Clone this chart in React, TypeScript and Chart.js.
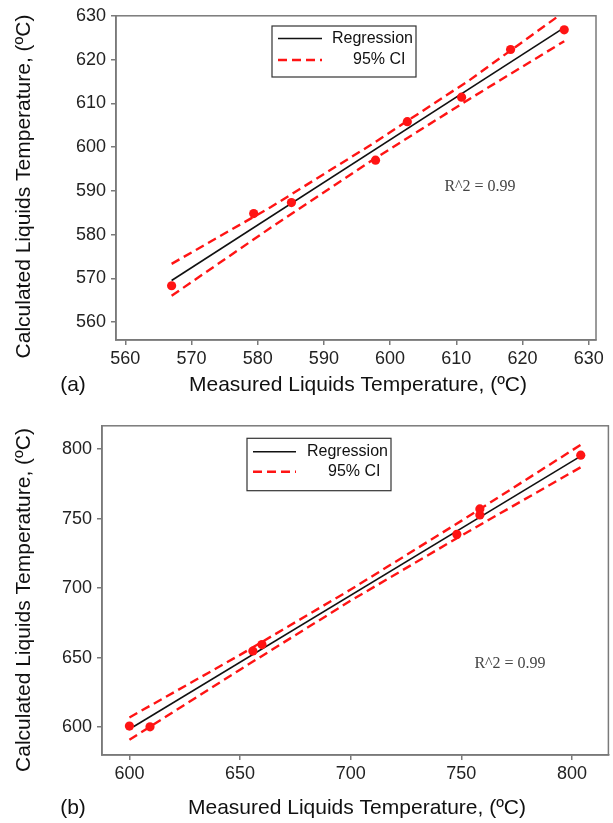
import React, { useEffect, useRef } from 'react';
import { Chart, registerables } from 'chart.js';

Chart.register(...registerables);

const SANS = 'Arial, "Liberation Sans", sans-serif';
const SERIF = '"Times New Roman", "Liberation Serif", serif';

// ---------- Panel (a) ----------
const aMeasured = [567.0, 579.4, 585.1, 597.8, 602.6, 610.8, 618.2, 626.3];
const aCalculated = [568.3, 584.8, 587.3, 597.0, 605.8, 611.4, 622.3, 626.8];
const aFitX = [567.0, 626.3];
const aFitY = [569.5, 627.3];
const aCiX = [567.0, 582.0, 597.0, 612.0, 626.3];
const aCiUpper = [573.3, 586.3, 600.4, 615.3, 630.9];
const aCiLower = [566.0, 581.6, 596.7, 611.0, 624.2];
const aXTicks = [560, 570, 580, 590, 600, 610, 620, 630];
const aYTicks = [560, 570, 580, 590, 600, 610, 620, 630];

// ---------- Panel (b) ----------
const bMeasured = [600.0, 609.3, 655.8, 659.9, 748.0, 758.4, 758.4, 804.0];
const bCalculated = [600.8, 600.3, 654.8, 659.4, 738.7, 757.0, 752.7, 795.7];
const bFitX = [601.8, 804.0];
const bFitY = [600.3, 795.0];
const bCiX = [600.0, 650.0, 700.0, 750.0, 804.0];
const bCiUpper = [607.0, 652.0, 699.0, 748.4, 803.1];
const bCiLower = [591.0, 641.4, 691.0, 737.8, 787.0];
const bXTicks = [600, 650, 700, 750, 800];
const bYTicks = [600, 650, 700, 750, 800];

const xTitle = 'Measured Liquids Temperature, (ºC)';
const yTitle = 'Calculated Liquids Temperature, (ºC)';
const fitLabel = 'Regression';
const ciLabel = '95% CI';
const r2Text = 'R^2 = 0.99';

const RED = '#ff1414';
const AXIS = '#7a7a7a';

type PanelCfg = {
  top: number;
  height: number;
  measured: number[];
  calculated: number[];
  fitX: number[];
  fitY: number[];
  ciX: number[];
  ciUpper: number[];
  ciLower: number[];
  xTicks: number[];
  yTicks: number[];
  xMin: number; xMax: number; yMin: number; yMax: number;
  padTop: number; padRight: number; yAxisW: number; xAxisH: number;
  legend: { x: number; y: number; w: number; h: number; lx1: number; lx2: number; ty: number[]; tx: number[] };
  r2: { x: number; y: number };
  yTitleY: number; xTitle: { x: number; y: number };
  tag: string; tagPos: { x: number; y: number };
};

const panelA: PanelCfg = {
  top: 0, height: 410,
  measured: aMeasured, calculated: aCalculated,
  fitX: aFitX, fitY: aFitY, ciX: aCiX, ciUpper: aCiUpper, ciLower: aCiLower,
  xTicks: aXTicks, yTicks: aYTicks,
  xMin: 558.6, xMax: 631.1, yMin: 555.9, yMax: 630,
  padTop: 14, padRight: 17, yAxisW: 116, xAxisH: 70,
  legend: { x: 272, y: 26, w: 144, h: 51, lx1: 278, lx2: 322, ty: [38.5, 60], tx: [332, 353] },
  r2: { x: 480, y: 186.5 },
  yTitleY: 186.5, xTitle: { x: 358, y: 385 },
  tag: '(a)', tagPos: { x: 73, y: 385 },
};

const panelB: PanelCfg = {
  top: 410, height: 413,
  measured: bMeasured, calculated: bCalculated,
  fitX: bFitX, fitY: bFitY, ciX: bCiX, ciUpper: bCiUpper, ciLower: bCiLower,
  xTicks: bXTicks, yTicks: bYTicks,
  xMin: 587.6, xMax: 816.5, yMin: 580, yMax: 816.8,
  padTop: 15, padRight: 2, yAxisW: 102, xAxisH: 68,
  legend: { x: 247, y: 28.3, w: 144, h: 52.4, lx1: 253, lx2: 296, ty: [41.7, 61.7], tx: [307, 328] },
  r2: { x: 510, y: 253.3 },
  yTitleY: 190, xTitle: { x: 357, y: 398 },
  tag: '(b)', tagPos: { x: 73, y: 398 },
};

function pts(xs: number[], ys: number[]) {
  return xs.map((x, i) => ({ x, y: ys[i] }));
}

function makeOverlay(cfg: PanelCfg) {
  return {
    id: 'overlay' + cfg.tag,
    afterDraw(chart: any) {
      const ctx = chart.ctx as CanvasRenderingContext2D;
      const a = chart.chartArea;
      ctx.save();
      // frame
      ctx.strokeStyle = AXIS;
      ctx.lineWidth = 1.5;
      ctx.strokeRect(a.left, a.top, a.right - a.left, a.bottom - a.top);

      // legend
      const L = cfg.legend;
      ctx.strokeStyle = '#333';
      ctx.lineWidth = 1.2;
      ctx.strokeRect(L.x, L.y, L.w, L.h);
      const ds = chart.data.datasets;
      const rows = [ds[1], ds[2]];
      rows.forEach((d: any, i: number) => {
        ctx.beginPath();
        ctx.setLineDash(d.borderDash || []);
        ctx.strokeStyle = d.borderColor;
        ctx.lineWidth = d.borderWidth;
        ctx.moveTo(L.lx1, L.ty[i]);
        ctx.lineTo(L.lx2, L.ty[i]);
        ctx.stroke();
        ctx.setLineDash([]);
        ctx.fillStyle = '#111';
        ctx.font = `16px ${SANS}`;
        ctx.textAlign = 'left';
        ctx.textBaseline = 'middle';
        ctx.fillText(d.label, L.tx[i], L.ty[i]);
      });

      // R^2
      ctx.fillStyle = '#444';
      ctx.font = `16px ${SERIF}`;
      ctx.textAlign = 'center';
      ctx.textBaseline = 'middle';
      ctx.fillText(r2Text, cfg.r2.x, cfg.r2.y);

      // axis titles
      ctx.fillStyle = '#111';
      ctx.font = `21px ${SANS}`;
      ctx.fillText(xTitle, cfg.xTitle.x, cfg.xTitle.y);
      ctx.fillText(cfg.tag, cfg.tagPos.x, cfg.tagPos.y);
      ctx.save();
      ctx.translate(24, cfg.yTitleY);
      ctx.rotate(-Math.PI / 2);
      ctx.fillText(yTitle, 0, 0);
      ctx.restore();
      ctx.restore();
    },
  };
}

function Panel({ cfg }: { cfg: PanelCfg }) {
  const ref = useRef<HTMLCanvasElement | null>(null);
  useEffect(() => {
    if (!ref.current) return;
    const tickFont = { family: SANS, size: 18 };
    const chart = new Chart(ref.current, {
      type: 'scatter',
      data: {
        datasets: [
          {
            label: 'Data',
            data: pts(cfg.measured, cfg.calculated),
            pointRadius: 4.6,
            pointBackgroundColor: RED,
            pointBorderWidth: 0,
            showLine: false,
          },
          {
            label: fitLabel,
            data: pts(cfg.fitX, cfg.fitY),
            showLine: true,
            pointRadius: 0,
            borderColor: '#111',
            borderWidth: 1.6,
          },
          {
            label: ciLabel,
            data: pts(cfg.ciX, cfg.ciUpper),
            showLine: true,
            pointRadius: 0,
            borderColor: RED,
            borderWidth: 2.4,
            borderDash: [9, 5],
          },
          {
            label: ciLabel + ' lower',
            data: pts(cfg.ciX, cfg.ciLower),
            showLine: true,
            pointRadius: 0,
            borderColor: RED,
            borderWidth: 2.4,
            borderDash: [9, 5],
          },
        ],
      } as any,
      options: {
        animation: false,
        responsive: true,
        maintainAspectRatio: false,
        layout: { padding: { top: cfg.padTop, right: cfg.padRight, left: 0, bottom: 0 } },
        plugins: { legend: { display: false }, tooltip: { enabled: false } },
        scales: {
          x: {
            type: 'linear',
            min: cfg.xMin,
            max: cfg.xMax,
            afterBuildTicks: (s: any) => { s.ticks = cfg.xTicks.map((v) => ({ value: v })); },
            afterFit: (s: any) => { s.height = cfg.xAxisH; },
            ticks: { font: tickFont, color: '#222', padding: 3, maxRotation: 0, autoSkip: false },
            grid: { drawOnChartArea: false, drawTicks: true, tickLength: 5, color: AXIS, lineWidth: 1.5 },
            border: { display: true, color: AXIS, width: 1.5 },
          },
          y: {
            type: 'linear',
            min: cfg.yMin,
            max: cfg.yMax,
            afterBuildTicks: (s: any) => { s.ticks = cfg.yTicks.map((v) => ({ value: v })); },
            afterFit: (s: any) => { s.width = cfg.yAxisW; },
            ticks: { font: tickFont, color: '#222', padding: 5, autoSkip: false },
            grid: { drawOnChartArea: false, drawTicks: true, tickLength: 5, color: AXIS, lineWidth: 1.5 },
            border: { display: true, color: AXIS, width: 1.5 },
          },
        },
      } as any,
      plugins: [makeOverlay(cfg)],
    });
    return () => chart.destroy();
  }, [cfg]);
  return (
    <div style={{ position: 'absolute', left: 0, top: cfg.top, width: 613, height: cfg.height }}>
      <canvas ref={ref} />
    </div>
  );
}

export default function App() {
  return (
    <div style={{ position: 'absolute', left: 0, top: 0, width: 613, height: 823, background: '#fff' }}>
      <Panel cfg={panelA} />
      <Panel cfg={panelB} />
    </div>
  );
}
